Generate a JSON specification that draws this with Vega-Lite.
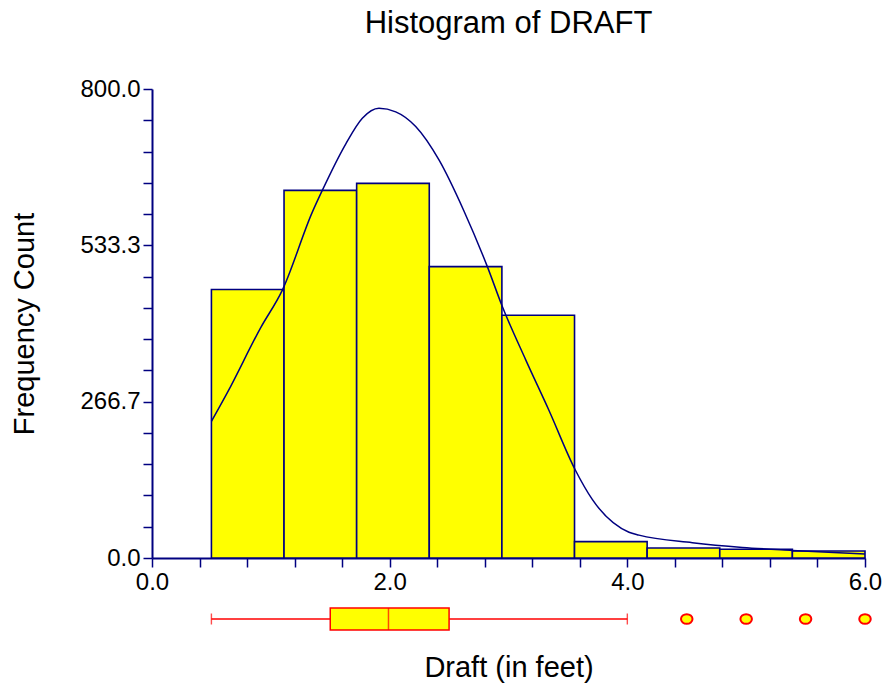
{
  "$schema": "https://vega.github.io/schema/vega-lite/v6.json",
  "background": "white",
  "padding": {"left": 10, "top": 8, "right": 2, "bottom": 5},
  "spacing": 5,
  "config": {
    "font": "Liberation Sans",
    "view": {"stroke": null},
    "axis": {
      "grid": false,
      "labelFont": "Liberation Sans",
      "titleFont": "Liberation Sans",
      "labelColor": "black",
      "titleColor": "black",
      "titleFontWeight": "normal",
      "labelFontSize": 24,
      "titleFontSize": 29,
      "domainColor": "#000080",
      "tickColor": "#000080",
      "domainWidth": 2,
      "tickWidth": 1.5,
      "tickSize": 9,
      "labelOverlap": false,
      "labelFlush": false
    }
  },
  "vconcat": [
    {
      "width": 713,
      "height": 469,
      "title": {
        "text": "Histogram of DRAFT",
        "anchor": "middle",
        "frame": "group",
        "font": "Liberation Sans",
        "fontSize": 31,
        "fontWeight": "normal",
        "color": "black",
        "offset": 37
      },
      "layer": [
        {
          "data": {
            "values": [
              {"bin_start": 0.5, "bin_end": 1.1111, "count": 458},
              {"bin_start": 1.1111, "bin_end": 1.7222, "count": 627},
              {"bin_start": 1.7222, "bin_end": 2.3333, "count": 639},
              {"bin_start": 2.3333, "bin_end": 2.9444, "count": 497},
              {"bin_start": 2.9444, "bin_end": 3.5556, "count": 414},
              {"bin_start": 3.5556, "bin_end": 4.1667, "count": 28},
              {"bin_start": 4.1667, "bin_end": 4.7778, "count": 17},
              {"bin_start": 4.7778, "bin_end": 5.3889, "count": 15},
              {"bin_start": 5.3889, "bin_end": 6.0, "count": 12}
            ]
          },
          "mark": {"type": "bar", "fill": "#FFFF00", "stroke": "#000080", "strokeWidth": 1.6},
          "encoding": {
            "x": {
              "field": "bin_start",
              "type": "quantitative",
              "scale": {"domain": [0, 6], "nice": false, "zero": false},
              "axis": {
                "title": null,
                "values": [0, 0.4, 0.8, 1.2, 1.6, 2, 2.4, 2.8, 3.2, 3.6, 4, 4.4, 4.8, 5.2, 5.6, 6],
                "tickCount": 30,
                "labelExpr": "abs(datum.value - round(datum.value / 2) * 2) < 0.01 ? format(datum.value, '.1f') : ''",
                "labelPadding": 3
              }
            },
            "x2": {"field": "bin_end"},
            "y": {
              "field": "count",
              "type": "quantitative",
              "scale": {"domain": [0, 800], "nice": false},
              "axis": {
                "title": "Frequency Count",
                "values": [0, 53.3333, 106.6667, 160, 213.3333, 266.6667, 320, 373.3333, 426.6667, 480, 533.3333, 586.6667, 640, 693.3333, 746.6667, 800],
                "tickCount": 30,
                "labelExpr": "abs(datum.value - round(datum.value / 266.6667) * 266.6667) < 0.5 ? format(datum.value, '.1f') : ''",
                "labelPadding": 3,
                "titlePadding": 40
              }
            },
            "y2": {"datum": 0}
          }
        },
        {
          "data": {
            "values": [
              {"draft": 0.5, "density": 233},
              {"draft": 0.634, "density": 282},
              {"draft": 0.915, "density": 393},
              {"draft": 1.097, "density": 457},
              {"draft": 1.349, "density": 590},
              {"draft": 1.433, "density": 627},
              {"draft": 1.63, "density": 706},
              {"draft": 1.77, "density": 750},
              {"draft": 1.91, "density": 767},
              {"draft": 2.051, "density": 761},
              {"draft": 2.219, "density": 736},
              {"draft": 2.415, "density": 679},
              {"draft": 2.625, "density": 592},
              {"draft": 2.822, "density": 497},
              {"draft": 2.948, "density": 429},
              {"draft": 3.145, "density": 338},
              {"draft": 3.34, "density": 252},
              {"draft": 3.56, "density": 151},
              {"draft": 3.705, "density": 100},
              {"draft": 4.014, "density": 44},
              {"draft": 4.098, "density": 39},
              {"draft": 4.547, "density": 26},
              {"draft": 4.968, "density": 18},
              {"draft": 5.388, "density": 13},
              {"draft": 6.0, "density": 7}
            ]
          },
          "mark": {"type": "line", "color": "#000080", "strokeWidth": 1.5, "interpolate": "monotone"},
          "encoding": {
            "x": {"field": "draft", "type": "quantitative"},
            "y": {"field": "density", "type": "quantitative"}
          }
        }
      ]
    },
    {
      "width": 713,
      "height": 40,
      "layer": [
        {
          "data": {"name": "box"},
          "mark": {"type": "rule", "color": "#FF0000", "strokeWidth": 1.4},
          "encoding": {
            "x": {
              "field": "lower",
              "type": "quantitative",
              "scale": {"domain": [0, 6], "nice": false, "zero": false},
              "axis": {"title": "Draft (in feet)", "domain": false, "ticks": false, "labels": false, "titlePadding": 14}
            },
            "x2": {"field": "upper"},
            "y": {"field": "variable", "type": "nominal", "axis": null}
          }
        },
        {
          "data": {"name": "box"},
          "mark": {"type": "tick", "color": "#FF0000", "size": 11, "thickness": 1.4},
          "encoding": {
            "x": {"field": "lower", "type": "quantitative"},
            "y": {"field": "variable", "type": "nominal", "axis": null}
          }
        },
        {
          "data": {"name": "box"},
          "mark": {"type": "tick", "color": "#FF0000", "size": 11, "thickness": 1.4},
          "encoding": {
            "x": {"field": "upper", "type": "quantitative"},
            "y": {"field": "variable", "type": "nominal", "axis": null}
          }
        },
        {
          "data": {"name": "box"},
          "mark": {"type": "bar", "fill": "#FFFF00", "stroke": "#FF0000", "strokeWidth": 1.5, "size": 22},
          "encoding": {
            "x": {"field": "q1", "type": "quantitative"},
            "x2": {"field": "q3"},
            "y": {"field": "variable", "type": "nominal", "axis": null}
          }
        },
        {
          "data": {"name": "box"},
          "mark": {"type": "tick", "color": "#FF0000", "size": 22, "thickness": 1.5},
          "encoding": {
            "x": {"field": "median", "type": "quantitative"},
            "y": {"field": "variable", "type": "nominal", "axis": null}
          }
        },
        {
          "data": {"name": "outliers"},
          "mark": {
            "type": "point",
            "filled": true,
            "fill": "#FFFF00",
            "stroke": "#FF0000",
            "strokeWidth": 2,
            "opacity": 1,
            "size": 100,
            "shape": "M -1.15 0 A 1.15 0.97 0 1 0 1.15 0 A 1.15 0.97 0 1 0 -1.15 0 Z"
          },
          "encoding": {
            "x": {"field": "draft", "type": "quantitative"},
            "y": {"field": "variable", "type": "nominal", "axis": null}
          }
        }
      ]
    }
  ],
  "datasets": {
    "box": [
      {"variable": "DRAFT", "lower": 0.5, "q1": 1.5, "median": 1.99, "q3": 2.5, "upper": 4.0}
    ],
    "outliers": [
      {"variable": "DRAFT", "draft": 4.5},
      {"variable": "DRAFT", "draft": 5.0},
      {"variable": "DRAFT", "draft": 5.5},
      {"variable": "DRAFT", "draft": 6.0}
    ]
  }
}
